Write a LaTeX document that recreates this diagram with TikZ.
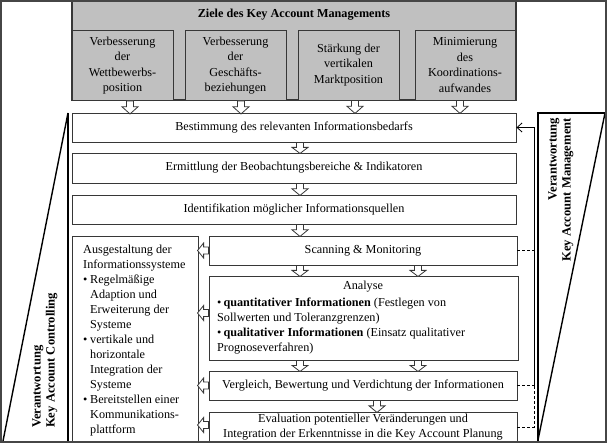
\documentclass[tikz,border=0pt]{standalone}
\usepackage{fontspec}
\setmainfont{Liberation Serif}
\usetikzlibrary{arrows.meta}
\definecolor{zgray}{RGB}{192,192,192}
\definecolor{edgec}{RGB}{55,55,55}
\definecolor{framec}{RGB}{70,70,70}
\begin{document}
\begin{tikzpicture}[x=1bp,y=-1bp,
  txt/.style={font=\fontsize{12.2bp}{15bp}\selectfont},
  btxt/.style={font=\fontsize{12.2bp}{15bp}\selectfont\bfseries},
  box/.style={txt,draw=edgec,line width=0.9bp,fill=white,inner sep=0pt,align=center},
  gbox/.style={box,fill=zgray,font=\fontsize{12.2bp}{15.5bp}\selectfont},
  harrow/.style={draw=edgec,line width=0.8bp,fill=white,line join=miter},
  pics/dn/.style={code={\path[harrow] (-3.5,0) -- (-3.5,0.45*#1) -- (-8,0.45*#1) -- (0,#1) -- (8,0.45*#1) -- (3.5,0.45*#1) -- (3.5,0) -- cycle;}},
  pics/lt/.style={code={\path[harrow] (0,-3.5) -- (-0.45*#1,-3.5) -- (-0.45*#1,-7.5) -- (-#1,0) -- (-0.45*#1,7.5) -- (-0.45*#1,3.5) -- (0,3.5) -- cycle;}},
  vtxt/.style={font=\fontsize{12.6bp}{14bp}\selectfont\bfseries,inner sep=0pt,rotate=90}
]
\useasboundingbox (0,0) rectangle (607,444);

% top goals
\node[gbox, line width=1.5bp, minimum width=444bp, minimum height=99bp] (ziele) at (294,50.5) {};
\node[btxt] (zt) at (294,15) {Ziele des Key Account Managements};
\node[gbox, minimum width=101bp, minimum height=70bp] (z1) at (122.5,65.5) {Verbesserung\\der\\Wettbewerbs-\\position};
\node[gbox, minimum width=101bp, minimum height=70bp] (z2) at (235.5,65.5) {Verbesserung\\der\\Geschäfts-\\beziehungen};
\node[gbox, minimum width=101bp, minimum height=70bp] (z3) at (348.5,65) {Stärkung der\\vertikalen\\Marktposition};
\node[gbox, minimum width=100bp, minimum height=70bp] (z4) at (465,65) {Minimierung\\des\\Koordinations-\\aufwandes};

% process boxes
\node[box, minimum width=444bp, minimum height=29bp] (bed) at (294,127.5) {Bestimmung des relevanten Informationsbedarfs};
\node[box, minimum width=444bp, minimum height=30bp] (erm) at (294,168) {Ermittlung der Beobachtungsbereiche \& Indikatoren};
\node[box, minimum width=444bp, minimum height=29bp] (ide) at (294,209.5) {Identifikation möglicher Informationsquellen};
\node[box, minimum width=308bp, minimum height=29bp] (scan) at (363,250.5) {Scanning \& Monitoring};
\node[box, minimum width=309bp, minimum height=84bp] (ana) at (363.5,318) {};
\node[txt] (anat) at (363,287) {Analyse};
\node[txt, align=left, anchor=north west, inner sep=0pt] (anab) at (217,297.5)
  {\textbullet\,\textbf{quantitativer Informationen} (Festlegen von\\
   Sollwerten und Toleranzgrenzen)\\
   \textbullet\,\textbf{qualitativer Informationen} (Einsatz qualitativer\\
   Prognoseverfahren)};
\node[box, minimum width=308bp, minimum height=29bp] (verg) at (363,385.5) {Vergleich, Bewertung und Verdichtung der Informationen};
\node[box, minimum width=308bp, minimum height=30bp] (eval) at (363,427) {Evaluation potentieller Veränderungen und\\Integration der Erkenntnisse in die Key Account Planung};
\node[box, minimum width=126bp, minimum height=206bp] (aus) at (135,339) {};
\node[txt, align=left, anchor=north west, inner sep=0pt] (aust) at (83,244.5)
  {Ausgestaltung der\\
   Informationssysteme\\
   \makebox[7bp][l]{\textbullet}Regelmäßige\\
   \hspace*{7bp}Adaption und\\
   \hspace*{7bp}Erweiterung der\\
   \hspace*{7bp}Systeme\\
   \makebox[7bp][l]{\textbullet}vertikale und\\
   \hspace*{7bp}horizontale\\
   \hspace*{7bp}Integration der\\
   \hspace*{7bp}Systeme\\
   \makebox[7bp][l]{\textbullet}Bereitstellen einer\\
   \hspace*{7bp}Kommunikations-\\
   \hspace*{7bp}plattform};

% hollow arrows
\pic at ([xshift=7.5bp]z1.south) {dn=13};
\pic at ([xshift=5.5bp]z2.south) {dn=13};
\pic at ([xshift=6.5bp]z3.south) {dn=13};
\pic at ([xshift=-5bp]z4.south) {dn=13};
\pic at ([xshift=6bp]bed.south) {dn=11};
\pic at ([xshift=6bp]erm.south) {dn=12};
\pic at ([xshift=6bp]ide.south) {dn=12};
\pic at ([xshift=-63bp]scan.south) {dn=11};
\pic at ([xshift=55bp]scan.south) {dn=11};
\pic at ([xshift=-63.5bp]ana.south) {dn=11};
\pic at ([xshift=54.5bp]ana.south) {dn=11};
\pic at ([xshift=14bp]verg.south) {dn=12};
\pic at (scan.west) {lt=11};
\pic at ([yshift=5bp]ana.west) {lt=11};
\pic at (verg.west) {lt=11};
\pic at ([yshift=2bp]eval.west) {lt=11};

% feedback loop
\coordinate (fbx) at (534,127);
\draw[line width=0.8bp, -{Straight Barb[length=5bp,width=9bp]}] (verg.east -| fbx) -- (fbx |- bed.east) -- (bed.east);
\draw[line width=0.8bp, dash pattern=on 3bp off 2bp] (scan.east) -- (scan.east -| fbx);
\draw[line width=0.8bp, dash pattern=on 3bp off 2bp] (verg.east) -- (verg.east -| fbx);
\draw[line width=0.8bp, dash pattern=on 3bp off 2bp] (eval.east) -- (eval.east -| fbx) -- (verg.east -| fbx);

% responsibility wedges
\draw[line width=1.4bp] (68,113) -- (68,442);
\draw[line width=1.4bp] (68,113) -- (3,441);
\draw[line width=1.8bp] (538,442) -- (538,113) -- (605,113);
\draw[line width=1.4bp] (605,113) -- (538,440);
\node[vtxt, anchor=west, align=left] (vl) at (45,428) {Verantwortung\\Key Account Controlling};
\node[vtxt, anchor=east, align=right] (vr) at (561,118) {Verantwortung\\Key Account Management};

% outer frame
\draw[framec, line width=2bp] (1,1) rectangle (605.5,442);
\end{tikzpicture}
\end{document}
